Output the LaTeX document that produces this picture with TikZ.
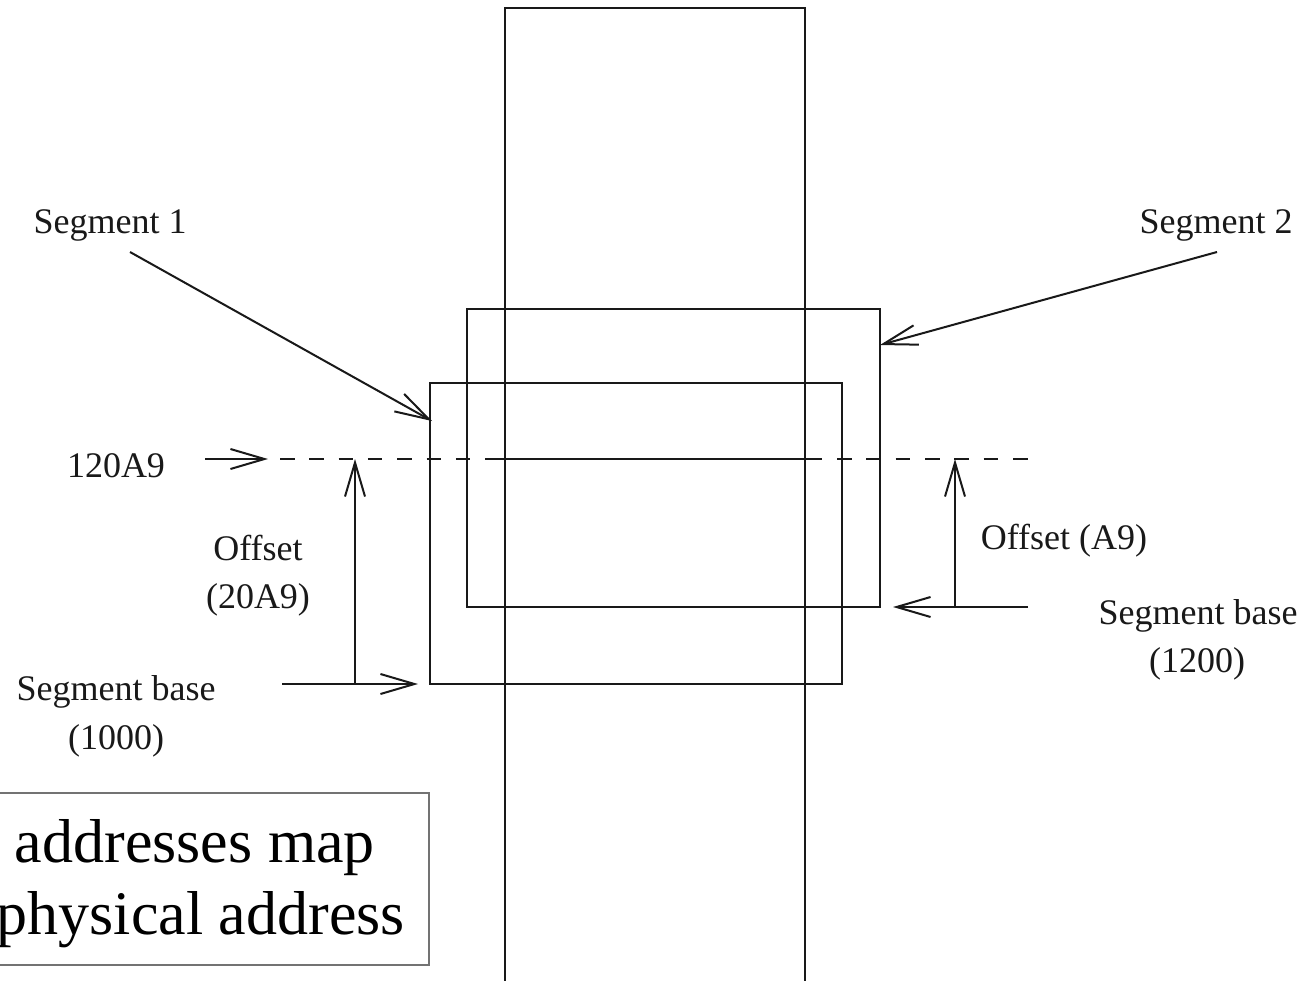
\documentclass[tikz,border=0pt]{standalone}
\usepackage{fontspec}
\setmainfont{Liberation Serif}
\usetikzlibrary{arrows.meta}
\begin{document}
\begin{tikzpicture}[x=1pt,y=-1pt,
  ln/.style={line width=2pt,black!90},
  barb/.style={ln,-{Straight Barb[length=34pt,width=20pt]}},
  lbl/.style={font=\fontsize{36}{43}\selectfont,inner sep=0pt,anchor=base,text=black!90},
  big/.style={font=\fontsize{62}{72}\selectfont,inner sep=0pt,anchor=base east,text=black}]
\useasboundingbox (0,0) rectangle (1314,980);
\clip (0,0) rectangle (1314,980);
\fill[white] (0,0) rectangle (1314,980);

% memory column
\coordinate (memTL) at (505,8);
\coordinate (memBR) at (805,1000);
\draw[line width=2.4pt,black!90] (memTL) rectangle (memBR);

% segment 1 and segment 2
\coordinate (s1TL) at (430,383);
\coordinate (s1BR) at (842,684);
\draw[ln] (s1TL) rectangle (s1BR);
\coordinate (s2TL) at (467,309);
\coordinate (s2BR) at (880,607);
\draw[ln] (s2TL) rectangle (s2BR);

% address line
\coordinate (addrA) at (280,459);
\coordinate (addrB) at (1028,459);
\draw[ln,dash pattern=on 14.5pt off 14.82pt] (addrA) -- (addrB);
\coordinate (solA) at (490,459);
\coordinate (solB) at (820,459);
\draw[ln] (solA) -- (solB);

% labels
\node[lbl] (seg1) at (110,233) {Segment 1};
\node[lbl] (seg2) at (1216,233) {Segment 2};
\node[lbl] (addr) at (116,477) {120A9};
\node[lbl] (off1a) at (258,560) {Offset};
\node[lbl] (off1b) at (258,608) {(20A9)};
\node[lbl] (base1a) at (116,700) {Segment base};
\node[lbl] (base1b) at (116,749) {(1000)};
\node[lbl] (off2) at (1064,549) {Offset (A9)};
\node[lbl] (base2a) at (1198,624) {Segment base};
\node[lbl] (base2b) at (1197,672) {(1200)};

% arrows
\coordinate (addrS) at (205,459);
\coordinate (addrT) at (268,459);
\draw[barb] (addrS) -- (addrT);
\coordinate (seg1S) at (130,252);
\coordinate (seg1T) at (432,421);
\draw[barb] (seg1S) -- (seg1T);
\coordinate (seg2S) at (1217,252);
\coordinate (seg2T) at (880,345);
\draw[barb] (seg2S) -- (seg2T);
\coordinate (b1S) at (282,684);
\coordinate (b1T) at (418,684);
\draw[barb] (b1S) -- (b1T);
\coordinate (o1S) at (355,684);
\coordinate (o1T) at (355,459);
\draw[barb] (o1S) -- (o1T);
\coordinate (b2S) at (1028,607);
\coordinate (b2T) at (893,607);
\draw[barb] (b2S) -- (b2T);
\coordinate (o2S) at (955,607);
\coordinate (o2T) at (955,459);
\draw[barb] (o2S) -- (o2T);

% caption box
\coordinate (capTL) at (-20,793);
\coordinate (capBR) at (429,965);
\draw[line width=1.5pt,black!55] (capTL) rectangle (capBR);
\node[big] (cap1) at (375,862) {addresses map};
\node[big] (cap2) at (405,934) {physical address};
\end{tikzpicture}
\end{document}
